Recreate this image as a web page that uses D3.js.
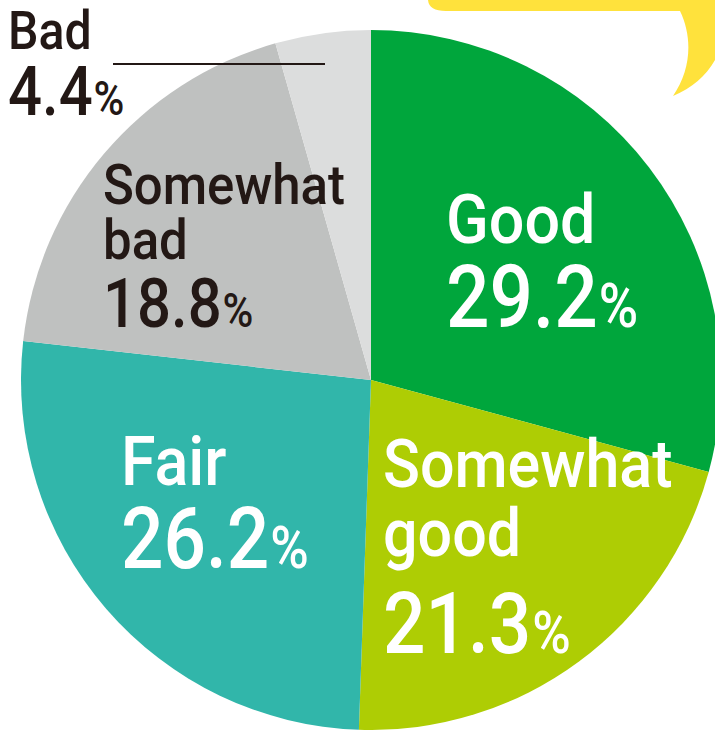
<!DOCTYPE html>
<html>
<head>
<meta charset="utf-8">
<script src="https://cdn.jsdelivr.net/npm/d3@7"></script>
<style>
  html, body { margin: 0; padding: 0; background: #ffffff; }
  svg { display: block; }
  text { font-family: Roboto, "Noto Sans", sans-serif; font-weight: 500; }
</style>
</head>
<body>
<svg id="chart" width="715" height="730"></svg>
<script>
// Survey answer shares, clockwise from 12 o'clock
const categories = ["Good", "Somewhat good", "Fair", "Somewhat bad", "Bad"];
const nameLines = [["Good"], ["Somewhat", "good"], ["Fair"], ["Somewhat", "bad"], ["Bad"]];
const shares = [29.2, 21.3, 26.2, 18.8, 4.4];

// Presentation: slice colours and label placement
const sliceColors = ["#00a63c", "#aecd04", "#31b6aa", "#bfc1c0", "#dcdddd"];
const ink = ["#ffffff", "#ffffff", "#ffffff", "#231815", "#231815"];
const labelLayout = [
  { x: 446, lines: [243], value: 327, nameSize: 69, valueSize: 87 },
  { x: 383, lines: [487, 556], value: 653, nameSize: 67, valueSize: 85 },
  { x: 121, lines: [485], value: 568, nameSize: 69, valueSize: 85 },
  { x: 103, lines: [204, 259], value: 327, nameSize: 56, valueSize: 68 },
  { x: 8,   lines: [49],  value: 115, nameSize: 53, valueSize: 68 }
];
const nameSqueeze = 0.91;
const valueSqueeze = 0.88;

const svg = d3.select("#chart");
const cx = 371, cy = 380, radius = 350;

// Yellow speech-bubble corner peeking in at the top right
svg.append("path")
  .attr("d", "M 428,-5 L 428,0 Q 429,11 446,11 L 680,11 C 693,38 691,70 673,96 C 692,88 706,76 715,60 L 715,-5 Z")
  .attr("fill", "#ffe23c");

const pie = d3.pie().sort(null).value(d => d).startAngle(0).endAngle(2 * Math.PI);
const arc = d3.arc().innerRadius(0).outerRadius(radius);

const g = svg.append("g").attr("transform", `translate(${cx},${cy})`);
g.selectAll("path.slice")
  .data(pie(shares))
  .join("path")
  .attr("class", "slice")
  .attr("d", arc)
  .attr("fill", (d, i) => sliceColors[i]);

// Leader line for the narrow "Bad" slice
svg.append("line")
  .attr("x1", 113).attr("x2", 325)
  .attr("y1", 64).attr("y2", 64)
  .attr("stroke", "#231815")
  .attr("stroke-width", 2);

// Labels: category name then percentage with a smaller % sign
categories.forEach((cat, i) => {
  const L = labelLayout[i];
  nameLines[i].forEach((line, k) => {
    svg.append("text")
      .attr("transform", `translate(${L.x},${L.lines[k]}) scale(${nameSqueeze},1)`)
      .attr("font-size", L.nameSize)
      .attr("fill", ink[i])
      .text(line);
  });
  const t = svg.append("text")
    .attr("transform", `translate(${L.x},${L.value}) scale(${valueSqueeze},1)`)
    .attr("font-size", L.valueSize)
    .attr("fill", ink[i]);
  t.append("tspan").text(shares[i].toFixed(1));
  t.append("tspan").attr("font-size", L.valueSize * 0.7).attr("dx", 1).text("%");
});
</script>
</body>
</html>
